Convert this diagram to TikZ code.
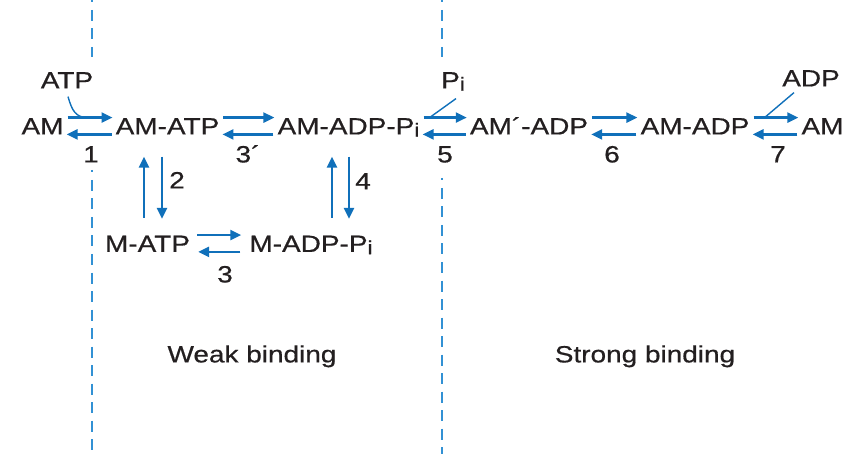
\documentclass[tikz,border=0pt]{standalone}
\usepackage{fontspec}
\setmainfont[FakeStretch=1.19,FakeBold=0.6]{Liberation Sans}
\usetikzlibrary{arrows.meta,calc}
\definecolor{arrblue}{RGB}{16,112,186}
\definecolor{dashblue}{RGB}{50,145,212}
\definecolor{ink}{RGB}{35,31,32}
\newcommand{\Pisub}{P\raisebox{-0.1em}{\fontsize{19}{19}\selectfont i}}
\begin{document}
\begin{tikzpicture}[x=1pt,y=-1pt,
  chem/.style={inner sep=0pt,text height=16.8pt,text depth=0pt,font=\fontsize{23.5}{26}\selectfont,text=ink},
  rxn/.style={draw=arrblue,line width=2.4pt,-{Triangle[length=11pt,width=10pt]}},
  side/.style={draw=arrblue,line width=1.4pt},
  divider/.style={draw=dashblue,line width=2.6pt,dash pattern=on 11pt off 7.5pt,dash phase=8.5pt}]
\useasboundingbox (0,0) rectangle (856,454);
% dividers
\draw[divider] (92,0) -- (92,57);
\draw[divider] (92,170) -- (92,454);
\draw[divider] (442,0) -- (442,57);
\draw[divider] (442,178) -- (442,454);
% species
\node[chem] (am1) at (42.5,126) {AM};
\node[chem] (amatp) at (167.5,126) {AM-ATP};
\node[chem] (amadppi) at (348.5,126) {AM-ADP-\Pisub};
\node[chem] (amprime) at (529,126) {AM´-ADP};
\node[chem] (amadp) at (695,126) {AM-ADP};
\node[chem] (am2) at (822.5,126) {AM};
\node[chem] (matp) at (147.5,243.5) {M-ATP};
\node[chem] (madppi) at (311,243.5) {M-ADP-\Pisub};
% side reactants
\node[chem] (atp) at (67,80) {ATP};
\node[chem] (pi) at (453,80) {\Pisub};
\node[chem] (adp) at (811,78) {ADP};
% labels
\node[chem] (l1) at (91,154) {1};
\node[chem] (l3p) at (248,154) {3´};
\node[chem] (l5) at (445,154) {5};
\node[chem] (l6) at (612,154) {6};
\node[chem] (l7) at (778,154) {7};
\node[chem] (l2) at (177,180) {2};
\node[chem] (l4) at (363,181) {4};
\node[chem] (l3) at (225,274) {3};
\node[chem] (weak) at (252,354) {Weak binding};
\node[chem] (strong) at (645,354) {Strong binding};
% horizontal equilibria
\foreach \a/\b in {am1/amatp, amatp/amadppi, amadppi/amprime, amprime/amadp, amadp/am2}{
  \draw[rxn] ([shift={(4,-8.4)}]\a.east) -- ([shift={(-3,-8.4)}]\b.west);
  \draw[rxn] ([shift={(-4,8.4)}]\b.west) -- ([shift={(3,8.4)}]\a.east);
}
\draw[rxn] ([shift={(7,-8.4)}]matp.east) -- ([shift={(-8,-8.4)}]madppi.west);
\draw[rxn] ([shift={(-9,8.4)}]madppi.west) -- ([shift={(8,8.4)}]matp.east);
% vertical equilibria
\draw[rxn] ($(matp.north -| 144,0)+(0,-17)$) -- ($(amatp.south -| 144,0)+(0,22)$);
\draw[rxn] ($(amatp.south -| 162,0)+(0,22)$) -- ($(matp.north -| 162,0)+(0,-16)$);
\draw[rxn] ($(madppi.north -| 332,0)+(0,-17)$) -- ($(amadppi.south -| 332,0)+(0,22)$);
\draw[rxn] ($(amadppi.south -| 349,0)+(0,22)$) -- ($(madppi.north -| 349,0)+(0,-16)$);
% side joins
\coordinate (j1) at ([shift={(24,-8.4)}]am1.east);
\coordinate (j5) at ([shift={(10,-8.4)}]amadppi.east);
\coordinate (j7) at ([shift={(15,-8.4)}]amadp.east);
\draw[side] ($(atp.south)+(1,8)$) .. controls +(4,14) and +(-12,0) .. (j1);
\draw[side] ($(pi.south)+(3,10)$) -- (j5);
\draw[side] ($(adp.south)+(-17,6)$) -- (j7);
\end{tikzpicture}
\end{document}
